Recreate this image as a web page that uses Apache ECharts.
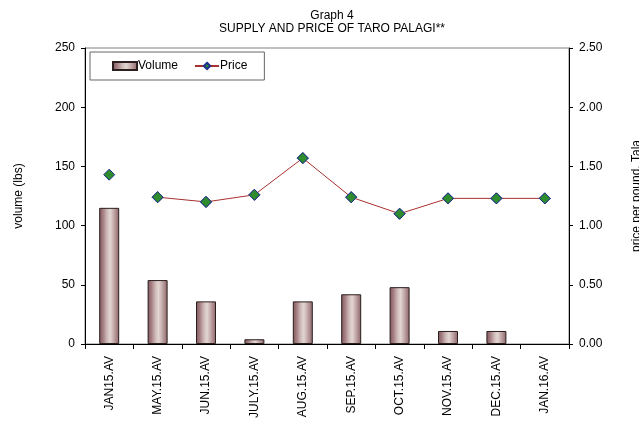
<!DOCTYPE html>
<html>
<head>
<meta charset="utf-8">
<script src="https://cdn.jsdelivr.net/npm/echarts@6/dist/echarts.min.js"></script>
<style>
  html, body { margin: 0; padding: 0; background: #fff; }
  #chart { width: 639px; height: 427px; }
</style>
</head>
<body>
<div id="chart"></div>
<script>
var months = ['JAN15.AV', 'MAY.15.AV', 'JUN.15.AV', 'JULY.15.AV', 'AUG.15.AV',
  'SEP.15.AV', 'OCT.15.AV', 'NOV.15.AV', 'DEC.15.AV', 'JAN.16.AV'];
var volume = [115, 54, 36, 4, 36, 42, 48, 11, 11, 0];
var price = [1.43, 1.24, 1.20, 1.26, 1.57, 1.24, 1.10, 1.23, 1.23, 1.23];
// the line in the original starts at the 2nd point, first point is a lone marker
var lineStart = 1;
var volTicks = [0, 50, 100, 150, 200, 250];
var priceTicks = [0, 0.5, 1.0, 1.5, 2.0, 2.5];

var font = 'Liberation Sans, Arial, sans-serif';
var myChart = echarts.init(document.getElementById('chart'));

var barFill = new echarts.graphic.LinearGradient(0, 0, 1, 0, [
  { offset: 0, color: '#7d555a' },
  { offset: 0.2, color: '#a68084' },
  { offset: 0.4, color: '#d0bcb9' },
  { offset: 0.55, color: '#e2d6d2' },
  { offset: 0.75, color: '#c0a4a4' },
  { offset: 1, color: '#8a6266' }
]);

var diamond = {
  symbol: 'diamond',
  symbolSize: 11,
  itemStyle: { color: '#2e8b2e', borderColor: '#1f2f8f', borderWidth: 1, opacity: 1 }
};

myChart.setOption({
  animation: false,
  textStyle: { fontFamily: font },
  title: {
    text: 'Graph 4\nSUPPLY AND PRICE OF TARO PALAGI**',
    left: 327,
    top: 4,
    textAlign: 'center',
    textStyle: { fontFamily: font, fontSize: 12, fontWeight: 'normal', color: '#000', lineHeight: 13 }
  },
  legend: {
    data: [{ name: 'Volume', icon: 'rect' }, 'Price'],
    left: 90,
    top: 52,
    padding: [8, 17, 8, 22],
    itemGap: 16,
    itemWidth: 24,
    itemHeight: 8,
    borderColor: '#666',
    borderWidth: 1,
    backgroundColor: '#fff',
    textStyle: { fontFamily: font, fontSize: 12, color: '#000', padding: [0, 0, 0, -4] }
  },
  grid: {
    left: 85, right: 70, top: 48, bottom: 83,
    outerBoundsMode: 'none',
    show: true, borderColor: '#808080', borderWidth: 1
  },
  xAxis: {
    type: 'category',
    data: months,
    boundaryGap: true,
    axisLine: { lineStyle: { color: '#000', width: 1 } },
    axisTick: { show: true, length: 5, lineStyle: { color: '#000' } },
    axisLabel: { rotate: 90, margin: 12, fontSize: 12, color: '#000', fontFamily: font }
  },
  yAxis: [
    {
      type: 'value',
      min: volTicks[0],
      max: volTicks[volTicks.length - 1],
      interval: volTicks[1] - volTicks[0],
      name: 'volume (lbs)',
      nameLocation: 'middle',
      nameRotate: 90,
      nameGap: 60,
      nameTextStyle: { fontFamily: font, fontSize: 12, color: '#000' },
      axisLine: { show: true, lineStyle: { color: '#000' } },
      axisTick: { show: true, length: 4, lineStyle: { color: '#000' } },
      axisLabel: { margin: 10, fontSize: 12, color: '#000', fontFamily: font },
      splitLine: { show: false }
    },
    {
      type: 'value',
      min: priceTicks[0],
      max: priceTicks[priceTicks.length - 1],
      interval: priceTicks[1] - priceTicks[0],
      name: 'price per pound, Tala',
      nameLocation: 'middle',
      nameRotate: 90,
      nameGap: 62,
      nameTextStyle: { fontFamily: font, fontSize: 12, color: '#000' },
      axisLine: { show: true, lineStyle: { color: '#000' } },
      axisTick: { show: true, length: 4, lineStyle: { color: '#000' } },
      axisLabel: {
        margin: 10, fontSize: 12, color: '#000', fontFamily: font,
        formatter: function (v) { return v.toFixed(2); }
      },
      splitLine: { show: false }
    }
  ],
  series: [
    {
      name: 'Volume',
      type: 'bar',
      data: volume.map(function (v) { return v === 0 ? '-' : v; }),
      barWidth: 20,
      itemStyle: { color: barFill, borderColor: '#2b1e1e', borderWidth: 1 }
    },
    Object.assign({
      name: 'Price',
      type: 'line',
      yAxisIndex: 1,
      data: price.map(function (v, i) { return i < lineStart ? '-' : v; }),
      showSymbol: true,
      lineStyle: { color: '#a83030', width: 1 },
      z: 3
    }, diamond),
    Object.assign({
      name: 'Price',
      type: 'scatter',
      yAxisIndex: 1,
      data: price,
      z: 4
    }, diamond)
  ]
});
</script>
</body>
</html>
